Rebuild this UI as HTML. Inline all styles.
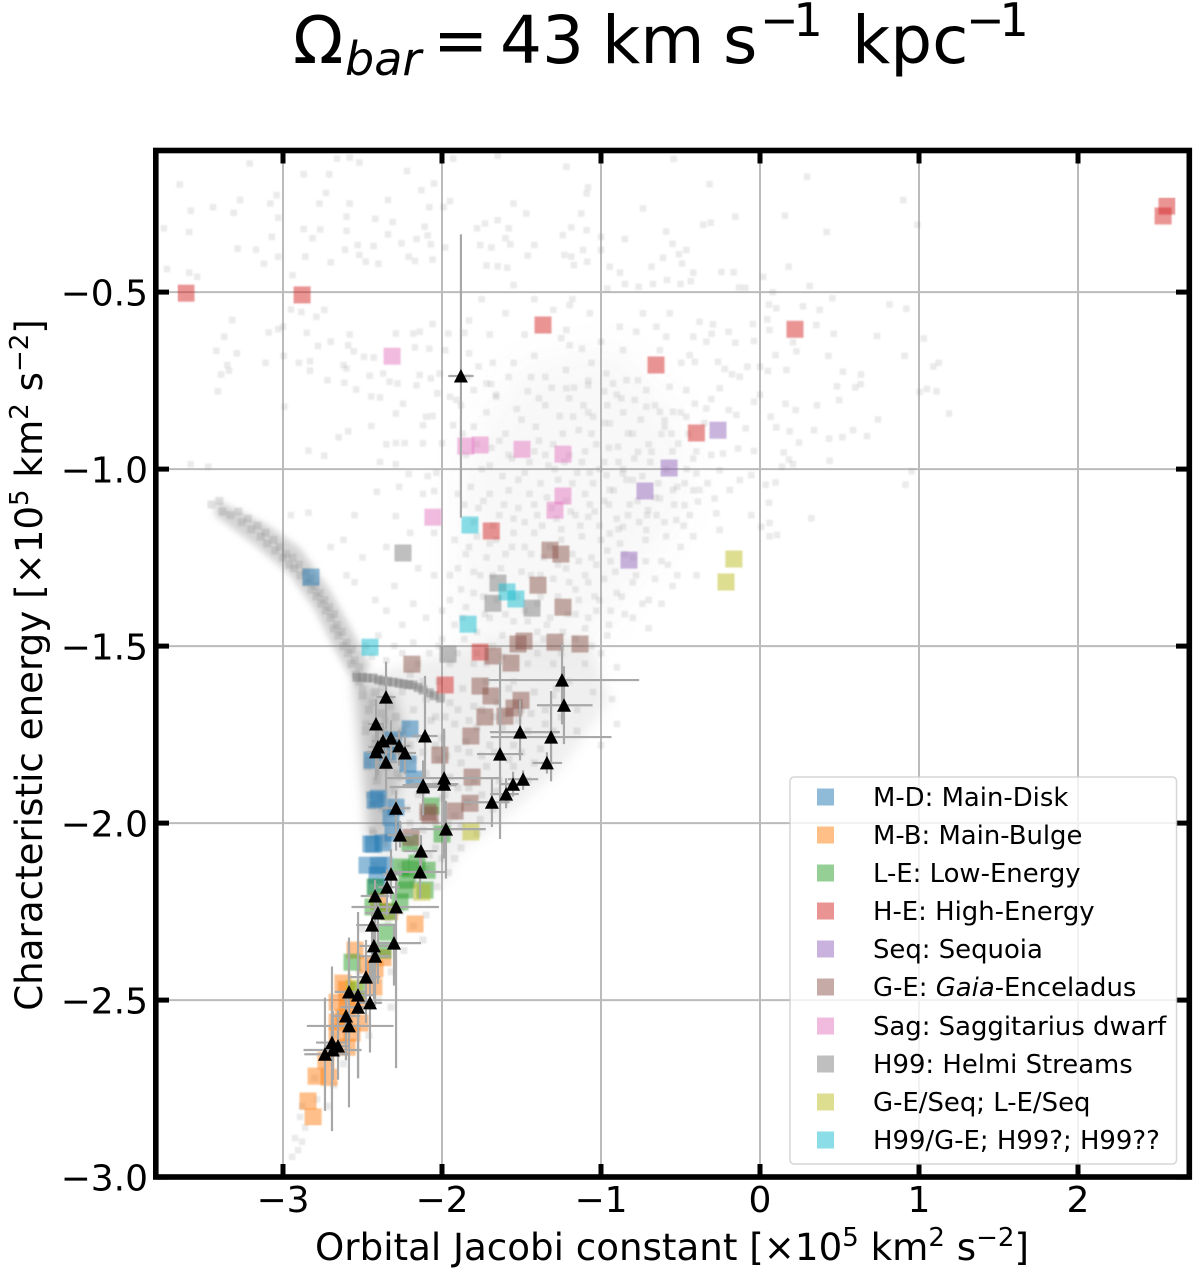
<!DOCTYPE html>
<html lang="en">
<head>
<meta charset="utf-8">
<title>Omega bar = 43 km/s/kpc energy vs Jacobi constant</title>
<style>
html,body{margin:0;padding:0;background:#fff;width:1200px;height:1276px;overflow:hidden}
svg{display:block}
text{font-family:"DejaVu Sans","Liberation Sans",sans-serif;fill:#000}
</style>
</head>
<body>
<svg id="chart" xmlns="http://www.w3.org/2000/svg" width="1200" height="1276" viewBox="0 0 1200 1276">
  <defs>
    <filter id="soft-wide" x="-30%" y="-30%" width="160%" height="160%"><feGaussianBlur stdDeviation="16"/></filter>
    <filter id="soft" x="-20%" y="-20%" width="140%" height="140%"><feGaussianBlur stdDeviation="6"/></filter>
    <filter id="soft-narrow" x="-20%" y="-20%" width="140%" height="140%"><feGaussianBlur stdDeviation="3.5"/></filter>
    <filter id="pixel-soft" x="0" y="0" width="100%" height="100%"><feGaussianBlur stdDeviation="0.7"/></filter>
    <clipPath id="plot-clip"><rect x="156" y="151" width="1033" height="1026"/></clipPath>
  </defs>
  <text y="63" font-size="66"><tspan x="293">Ω</tspan><tspan x="345" font-size="46" font-style="italic" dy="12">bar</tspan><tspan x="433" dy="-12">=</tspan><tspan x="500">43</tspan><tspan x="602">km</tspan><tspan x="723">s</tspan><tspan x="760" font-size="46" dy="-27" letter-spacing="-5">−1</tspan><tspan x="852" dy="27">kpc</tspan><tspan x="966" font-size="46" dy="-27" letter-spacing="-5">−1</tspan></text>
  <g id="grid"></g>
  <g clip-path="url(#plot-clip)">
    <g id="density-cloud" filter="url(#soft-wide)"></g>
    <g id="density" filter="url(#soft)"></g>
    <g id="density-stream" filter="url(#soft-narrow)"></g>
  </g>
  <g clip-path="url(#plot-clip)"><g id="stars" filter="url(#pixel-soft)"></g></g>
  <g clip-path="url(#plot-clip)"><g id="squares" filter="url(#pixel-soft)"></g></g>
  <g id="errors" clip-path="url(#plot-clip)"></g>
  <g id="triangles" clip-path="url(#plot-clip)"></g>
  <g id="ticks"></g>
  <rect x="155.8" y="150.5" width="1033.5" height="1026.5" fill="none" stroke="#000" stroke-width="5.6"/>
  <g>
    <rect x="790" y="777" width="386.5" height="387" rx="4" fill="#fff" fill-opacity="0.8" stroke="#cccccc" stroke-opacity="0.8" stroke-width="1.5"/>
    <g font-size="25.9">
      <g><rect x="817" y="788.5" width="17" height="17" fill="#1f77b4" fill-opacity="0.5"/><text x="873" y="806">M-D: Main-Disk</text></g>
      <g><rect x="817" y="826.5" width="17" height="17" fill="#ff7f0e" fill-opacity="0.5"/><text x="873" y="844">M-B: Main-Bulge</text></g>
      <g><rect x="817" y="864.5" width="17" height="17" fill="#2ca02c" fill-opacity="0.5"/><text x="873" y="882">L-E: Low-Energy</text></g>
      <g><rect x="817" y="902.5" width="17" height="17" fill="#d62728" fill-opacity="0.5"/><text x="873" y="920">H-E: High-Energy</text></g>
      <g><rect x="817" y="940.5" width="17" height="17" fill="#9467bd" fill-opacity="0.5"/><text x="873" y="958">Seq: Sequoia</text></g>
      <g><rect x="817" y="978.5" width="17" height="17" fill="#8c564b" fill-opacity="0.5"/><text x="873" y="996">G-E: <tspan font-style="italic">Gaia</tspan>-Enceladus</text></g>
      <g><rect x="817" y="1017.5" width="17" height="17" fill="#e377c2" fill-opacity="0.5"/><text x="873" y="1035">Sag: Saggitarius dwarf</text></g>
      <g><rect x="817" y="1055.5" width="17" height="17" fill="#7f7f7f" fill-opacity="0.5"/><text x="873" y="1073">H99: Helmi Streams</text></g>
      <g><rect x="817" y="1093.5" width="17" height="17" fill="#bcbd22" fill-opacity="0.5"/><text x="873" y="1111">G-E/Seq; L-E/Seq</text></g>
      <g><rect x="817" y="1131.5" width="17" height="17" fill="#17becf" fill-opacity="0.5"/><text x="873" y="1149">H99/G-E; H99?; H99??</text></g>
    </g>
  </g>
  <text x="672" y="1260" font-size="37.2" text-anchor="middle">Orbital Jacobi constant [×10<tspan font-size="26" dy="-14">5</tspan><tspan dy="14"> km</tspan><tspan font-size="26" dy="-14">2</tspan><tspan dy="14"> s</tspan><tspan font-size="26" dy="-14">−2</tspan><tspan dy="14">]</tspan></text>
  <text transform="translate(42,665) rotate(-90)" font-size="37.2" text-anchor="middle">Characteristic energy [×10<tspan font-size="26" dy="-14">5</tspan><tspan dy="14"> km</tspan><tspan font-size="26" dy="-14">2</tspan><tspan dy="14"> s</tspan><tspan font-size="26" dy="-14">−2</tspan><tspan dy="14">]</tspan></text>
</svg>
<script>
// Axis tick values
const xTicks = [-3,-2,-1,0,1,2];
const yTicks = [-0.5,-1,-1.5,-2,-2.5,-3];
const xTickLabels = ['−3','−2','−1','0','1','2'];
const yTickLabels = ['−0.5','−1.0','−1.5','−2.0','−2.5','−3.0'];

// Substructure markers: [Jacobi, energy] in units of 1e5 km^2 s^-2
const mainDisk = [[-2.824,-1.305],[-2.201,-1.734],[-2.308,-1.765],[-2.34,-1.80],[-2.44,-1.822],[-2.214,-1.833],[-2.176,-1.876],[-2.421,-1.935],[-2.40,-1.93],[-2.289,-1.955],[-2.321,-1.983],[-2.308,-2.028],[-2.447,-2.059],[-2.371,-2.056],[-2.472,-2.119],[-2.365,-2.119],[-2.409,-2.147],[-2.415,-2.181],[-2.43,-2.06],[-2.40,-2.12]];
const mainBulge = [[-2.17,-2.285],[-2.547,-2.359],[-2.421,-2.412],[-2.623,-2.452],[-2.428,-2.463],[-2.66,-2.506],[-2.516,-2.565],[-2.66,-2.562],[-2.597,-2.52],[-2.597,-2.633],[-2.66,-2.593],[-2.792,-2.715],[-2.711,-2.718],[-2.843,-2.785],[-2.811,-2.83],[-2.535,-2.50],[-2.566,-2.593],[-2.40,-2.22],[-2.33,-2.25],[-2.371,-2.38],[-2.47,-2.40],[-2.60,-2.47],[-2.73,-2.67],[-2.62,-2.55]];
const lowEnergy = [[-2.069,-1.952],[-2.0,-2.031],[-2.201,-2.056],[-2.258,-2.124],[-2.157,-2.113],[-2.094,-2.133],[-2.22,-2.161],[-2.233,-2.189],[-2.107,-2.189],[-2.421,-2.181],[-2.434,-2.237],[-2.346,-2.308],[-2.371,-2.359],[-2.566,-2.393],[-2.535,-2.472],[-2.264,-2.223],[-2.34,-2.25],[-2.20,-2.13]];
const highEnergy = [[-3.61,-0.503],[-2.88,-0.508],[2.535,-0.285],[2.56,-0.257],[-1.365,-0.593],[-0.654,-0.706],[0.22,-0.605],[-0.40,-0.898],[-1.69,-1.175],[-1.76,-1.517],[-1.98,-1.61]];
const sequoia = [[-0.264,-0.89],[-0.572,-0.997],[-0.723,-1.062],[-0.824,-1.257]];
const gaiaEnceladus = [[-1.321,-1.229],[-1.252,-1.24],[-1.396,-1.328],[-1.239,-1.39],[-1.522,-1.494],[-1.484,-1.486],[-1.289,-1.489],[-1.132,-1.494],[-1.679,-1.528],[-1.566,-1.548],[-1.761,-1.613],[-1.692,-1.641],[-1.503,-1.653],[-1.547,-1.675],[-1.604,-1.698],[-1.73,-1.70],[-1.818,-1.754],[-2.189,-1.551],[-2.013,-1.808],[-1.811,-1.87],[-1.824,-1.944],[-1.918,-1.966],[-2.088,-1.969],[-2.075,-1.977],[-2.195,-2.04]];
const sagittarius = [[-2.314,-0.681],[-1.85,-0.935],[-1.76,-0.932],[-1.497,-0.944],[-1.239,-0.958],[-1.239,-1.076],[-1.289,-1.116],[-2.057,-1.136]];
const helmiStreams = [[-2.245,-1.237],[-1.648,-1.322],[-1.68,-1.379],[-1.434,-1.393],[-1.962,-1.523]];
const geSeq = [[-0.164,-1.254],[-0.214,-1.319],[-1.818,-2.025],[-2.126,-2.195],[-2.553,-2.466]];
const h99Ge = [[-1.824,-1.158],[-1.591,-1.347],[-1.535,-1.367],[-1.836,-1.438],[-2.453,-1.503]];

// Clusters (black triangles with asymmetric error bars)
const clusterJacobi = [-1.881,-2.352,-2.415,-2.371,-2.321,-2.27,-2.403,-2.415,-2.233,-2.352,-2.107,-2.119,-2.119,-1.987,-1.987,-1.635,-1.509,-1.314,-1.245,-1.233,-1.34,-1.49,-1.553,-1.597,-1.686,-2.289,-1.975,-2.264,-2.132,-2.138,-2.321,-2.346,-2.421,-2.289,-2.403,-2.44,-2.428,-2.302,-2.421,-2.478,-2.585,-2.528,-2.453,-2.528,-2.604,-2.585,-2.692,-2.654,-2.686,-2.736];
const clusterEnergy = [-0.737,-1.644,-1.72,-1.768,-1.76,-1.782,-1.785,-1.799,-1.802,-1.828,-1.754,-1.893,-1.898,-1.873,-1.89,-1.805,-1.743,-1.757,-1.596,-1.667,-1.83,-1.876,-1.89,-1.918,-1.941,-1.958,-2.017,-2.034,-2.079,-2.138,-2.144,-2.181,-2.206,-2.237,-2.254,-2.288,-2.347,-2.339,-2.376,-2.435,-2.477,-2.486,-2.508,-2.52,-2.545,-2.573,-2.62,-2.63,-2.641,-2.653];
const clusterJacobiErrLow = [.08,.06,.05,.07,.07,.065,.06,.06,.07,.06,.08,.13,.21,.36,.21,.145,.19,.38,.465,.17,.09,.095,.08,.1,.18,.09,.22,.08,.11,.17,.05,.055,.09,.28,.08,.10,.09,.10,.095,.10,.09,.08,.075,.11,.075,.265,.10,.08,.185,.13];
const clusterJacobiErrHigh = [.08,.06,.05,.07,.07,.07,.08,.08,.07,.07,.08,.21,.17,.35,.09,.145,.25,.38,.485,.18,.095,.095,.055,.08,.11,.09,.25,.08,.10,.165,.07,.08,.09,.27,.11,.145,.11,.17,.095,.09,.10,.11,.075,.09,.09,.28,.095,.075,.18,.155];
const clusterEnergyErrUp = [.40,.10,.07,.045,.05,.045,.06,.06,.05,.06,.17,.07,.05,.14,.15,.26,.09,.13,.105,.11,.03,.025,.035,.045,.07,.05,.08,.04,.045,.055,.07,.05,.045,.075,.035,.04,.06,.05,.115,.105,.145,.235,.12,.13,.07,.25,.215,.10,.11,.16];
const clusterEnergyErrDown = [.40,.09,.06,.055,.06,.055,.08,.08,.06,.08,.12,.08,.08,.12,.21,.24,.08,.125,.125,.11,.03,.03,.035,.04,.07,.12,.14,.035,.045,.075,.07,.08,.08,.455,.2,.16,.15,.12,.14,.13,.135,.235,.14,.2,.125,.23,.25,.095,.085,.16];

// Background stars, read as alternating Jacobi, energy
const haloStars = [-3.65,-.196,-3.21,-.137,-3.58,-.27,-3.44,-.26,-3.27,-.24,-3.31,-.276,-3.08,-.25,-3.04,-.226,-3.03,-.29,-3.75,-.32,-3.59,-.33,-3.07,-.344,-3.285,-.377,-3.17,-.38,-3.03,-.4,-3.12,-.42,-3.73,-.435,-3.59,-.445,-3.54,-.457,-2.94,-.452,-2.87,-.167,-2.71,-.167,-2.73,-.22,-2.77,-.25,-2.58,-.25,-2.6,-.287,-2.87,-.322,-2.765,-.323,-2.6,-.327,-2.815,-.348,-2.42,-.293,-2.31,-.302,-2.34,-.24,-2.22,-.158,-2.13,-.212,-2.05,-.193,-2.08,-.26,-1.99,-.26,-1.95,-.243,-2.58,-.12,-2.66,-.123,-2.52,-.134,-2.11,-.315,-2.09,-.34,-2.07,-.365,-2.16,-.35,-2.34,-.337,-2.255,-.362,-2.53,-.367,-2.43,-.37,-2.61,-.38,-2.52,-.395,-2.86,-.4,-2.7,-.416,-2.48,-.414,-2.4,-.42,-2.21,-.4,-2.17,-.412,-2.06,-.408,-1.98,-.374,-1.78,-.32,-1.65,-.297,-1.73,-.306,-1.55,-.25,-1.47,-.278,-1.58,-.32,-1.76,-.367,-1.69,-.374,-1.6,-.348,-1.57,-.365,-1.42,-.367,-1.46,-.397,-1.72,-.425,-1.65,-.427,-1.59,-.431,-1.65,-.115,-1.93,-.123,
-3.32,-.579,-3.37,-.626,-3.42,-.666,-3.29,-.673,-3.35,-.706,-3.34,-.722,-3.39,-.733,-3.41,-.78,-3.11,-.70,-3.09,-.614,-3.03,-.605,-3,-.598,-2.99,-.824,-2.996,-.68,-2.9,-.70,-2.83,-.695,-2.83,-.722,-2.85,-.615,-2.885,-.556,-2.95,-.549,-2.79,-.57,-2.74,-.55,-2.78,-.652,-2.70,-.64,-2.72,-.749,-2.62,-.706,-2.6,-.716,-2.58,-.62,-2.59,-.65,-2.555,-.667,-2.49,-.683,-2.43,-.685,-2.615,-.756,-2.54,-.775,-2.455,-.736,-2.37,-.73,-2.33,-.753,-2.28,-.758,-2.445,-.795,-2.39,-.798,-2.29,-.617,-2.18,-.617,-2.14,-.612,-2.17,-.656,-2.08,-.66,-1.98,-.664,-2.06,-.59,-1.96,-.617,-1.86,-.615,-1.83,-.58,-1.83,-.673,-2.14,-.734,-2.07,-.744,-2.015,-.73,-2.16,-.763,-2.03,-.786,-1.95,-.796,-1.91,-.805,-1.8,-.777,-1.72,-.758,-1.66,-.796,-2.245,-.815,-2.29,-.843,-2.1,-.852,-2.06,-.85,-2.12,-.876,-1.93,-.876,-2.445,-.878,-2.59,-.893,-2.65,-.91,-2.35,-.93,-2.29,-.926,-2.235,-.926,-2.12,-.927,-2,-.927,-2.84,-.948,-2.74,-.962,-2.39,-.98,-2.29,-.986,-3.58,-.986,-3.47,-.993,-2.21,-1.014,-2.09,-1.02,-2.035,-1.01,-2.27,-1.05,-2.12,-1.07,-2.41,-1.064,-2.05,-1.062,-2.55,-1.13,-2.29,-1.133,-2.84,-1.123,-2.95,-1.13,
.296,-.174,-.317,-.195,.9,-.24,.157,-.284,.42,-.33,.99,-.31,-.155,-.287,-.31,-.304,-.356,-.31,-.59,-.329,-.736,-.264,-.85,-.35,-.55,-.363,-.463,-.381,-.51,-.393,-.61,-.403,-.683,-.428,-.49,-.419,-.88,-.445,-.945,-.428,-.243,-.443,-.166,-.444,-.42,-.445,-.435,-.469,-.5,-.477,-.585,-.466,-.673,-.477,-.763,-.485,-.85,-.477,-.96,-.49,.18,-.428,.02,-.457,.312,-.483,-.092,-.488,-.132,-.487,.08,-.5,.455,-.517,.815,-.535,.92,-.547,.27,-.54,.375,-.55,.103,-.546,.057,-.535,.046,-.577,.354,-.593,.463,-.618,.736,-.624,1.03,-.631,.91,-.68,.43,-.68,.229,-.667,.098,-.678,.207,-.642,-.044,-.59,-.197,-.612,-.304,-.618,-.38,-.584,-.296,-.591,-.42,-.626,-.338,-.64,-.155,-.643,-.038,-.638,.06,-.607,1.09,-.71,1.124,-.7,.522,-.725,.635,-.733,.166,-.72,.05,-.723,0,-.711,-.08,-.711,.484,-.766,.6,-.769,.633,-.76,1.004,-.782,1.05,-.774,1.11,-.78,.497,-.805,.358,-.82,.16,-.815,.224,-.833,1.19,-.843,.742,-.86,.103,-.882,.187,-.893,.34,-.89,.585,-.89,.673,-.907,.434,-.914,.518,-.91,.245,-.925,.067,-.852,.149,-.953,.182,-.973,.207,-.986,.438,-.976,.138,-.993,.954,-1.006,.915,-1.044,.098,-1.038,.036,-1.044,.057,-1.095,.323,-1.139,.06,-1.152,.107,-1.186,.06,-1.19,.008,-1.163,-.055,-1.13,-.038,-.949,-.138,-.942,-.09,-.885,-.149,-.847,-.197,-.833,-.254,-.772,-.038,-.81,0,-.79,-.128,-.739,-.176,-.732,-.222,-.717,-.264,-.697,-.306,-.802,-.41,-.815,-.338,-.829,-.463,-.777,-.442,-.678,-.495,-.7,-.41,-.697,-.63,-.664,-.59,-.626,-.652,-.598,-.736,-.56,-.883,-.598,-.568,-.56,-.778,-.612,-.862,-.664,-.966,-.73,-.925,-.758,-.84,-.749,-.767,-.749,-.715,-.777,-.568,-.767,-.872,-.8,-.788,-.805,-.715,-.824,-.63,-.838,-.547,-.838,-.6,-.862,-.463,-.852,-.83,-.899,-.893,-.937,-.945,-.871,-.62,-.901,-.557,-.9,-.515,-.928,-.767,-.951,-.683,-.951,-.42,-.97,-.306,-.96,-.233,-.956,-.254,-1.003,-.4,-1.012,-.8,-1.031,-.862,-1.012,-.966,-1.017,-.474,-1.04,-.38,-1.059,-.547,-1.059,-.63,-1.083,-.945,-1.059,-.474,-1.102,-.704,-1.116,-.39,-1.092,-.285,-1.083,-.19,-1.059,-.128,-1.031,-.055,-1.017,-.275,-1.125,-.442,-1.13,-.526,-1.144,-.862,-1.163,-.715,-1.172,-1.08,-1.135,-.945,-1.182,-.59,-1.19,-.42,-1.19,-.254,-1.172,-1.176,-.852,-1.05,-.852,-1.218,-.772,-1.08,-.763,-1.06,-.70,-1.218,-.607,-1.197,-.65,-1.197,-.537,-1.07,-.56,-1.23,-.395,-1.187,-.4,-1.17,-.424,-1.087,-.414,-1.113,-.381,-1,-.381,-1.124,-.278,-1.09,-.221,-1.218,-.146,-.543,-.124,-1.082,-.204,-1.187,-.317,-1.24,-.339,-1.09,-.325,-1,-.344,
-1.55,-.48,-1.42,-.52,-1.6,-.56,-1.48,-.62,-1.3,-.55,-1.18,-.52,-1.7,-.62,-1.75,-.52,-1.25,-.63,-1.12,-.66,-1,-.64,-1.68,-.7,-1.55,-.7,-1.42,-.68,-1.35,-.74,-1.22,-.72,-1.08,-.75,-.98,-.78,-1.88,-.82,-1.8,-.88,-1.72,-.84,-1.66,-.79,-1.6,-.9,-1.53,-.83,-1.46,-.78,-1.41,-.88,-1.35,-.82,-1.3,-.93,-1.26,-.85,-1.2,-.8,-1.14,-.89,-1.08,-.84,-1.03,-.93,-.98,-.87,-1.85,-.96,-1.75,-1.0,-1.69,-.94,-1.62,-1.02,-1.56,-.97,-1.48,-1.01,-1.42,-.95,-1.38,-1.04,-1.33,-.99,-1.27,-1.03,-1.2,-.96,-1.15,-1.01,-1.1,-.95,-1.05,-1.04,-.98,-.98,-.92,-1.06,-.86,-1.0,-1.9,-1.07,-1.82,-1.05,-1.77,-1.11,-1.7,-1.07,-1.64,-1.13,-1.58,-1.06,-1.52,-1.11,-1.45,-1.07,-1.4,-1.13,-1.34,-1.08,-1.28,-1.14,-1.22,-1.09,-1.16,-1.13,-1.1,-1.07,-1.04,-1.12,-.98,-1.09,-.9,-1.14,-.82,-1.1,-.76,-1.15,-.65,-1.13,-1.92,-1.2,-1.85,-1.24,-1.78,-1.19,-1.72,-1.25,-1.66,-1.2,-1.6,-1.24,-1.55,-1.18,-1.48,-1.22,-1.42,-1.18,-1.36,-1.25,-1.25,-1.2,-1.18,-1.24,-1.12,-1.19,-1.06,-1.25,-1,-1.2,-.94,-1.26,-.88,-1.21,-.8,-1.25,-.72,-1.2,-.62,-1.26,-.5,-1.22,-1.95,-1.3,-1.88,-1.34,-1.8,-1.29,-1.74,-1.36,-1.68,-1.3,-1.44,-1.3,-1.38,-1.36,-1.3,-1.31,-1.22,-1.28,-1.16,-1.34,-1.1,-1.3,-1.04,-1.36,-.98,-1.31,-.9,-1.35,-.8,-1.32,-.7,-1.37,-.55,-1.33,-.4,-1.3,-2.0,-1.4,-1.92,-1.44,-1.85,-1.39,-1.78,-1.46,-1.7,-1.42,-1.62,-1.47,-1.55,-1.43,-1.48,-1.4,-1.4,-1.46,-1.32,-1.42,-1.24,-1.46,-1.16,-1.41,-1.1,-1.45,-1.03,-1.4,-.95,-1.44,-.85,-1.41,-.7,-1.45,-.62,-1.38,-2.1,-1.42,-2.18,-1.38,-2.25,-1.44,-2.35,-1.4,-2.05,-1.3,-2.15,-1.28,-2.3,-1.33,-2.42,-1.37,-2.55,-1.32,-2.2,-1.18,-2.35,-1.22,-2.5,-1.25,-2.05,-1.18,-2.62,-1.2,-2.7,-1.22,-2.6,-1.3,-2.3,-1.5,-2.4,-1.47,-2.48,-1.5,-2.18,-1.49,-2.08,-1.52,-2.0,-1.48,-1.9,-1.52,-1.8,-1.55,-1.68,-1.5,-1.55,-1.6,-1.4,-1.52,-1.3,-1.55,-1.2,-1.6,-1.1,-1.55,-1.0,-1.52,-.9,-1.56,-.93,-1.65,-1.05,-1.63,-1.15,-1.68,-1.3,-1.64,-.9,-1.72,-1.0,-1.78,
-2.893,-2.83,-2.925,-2.89,-2.943,-2.943,-2.786,-2.78,-2.86,-2.86,-2.905,-2.924,-2.88,-2.9];
const cloudStars = [-1.84,-.74,-1.77,-.71,-1.69,-.76,-1.58,-.74,-1.5,-.86,-1.44,-.74,-1.39,-.8,-1.31,-.77,-1.24,-.9,-1.17,-.77,-1.11,-.82,-1.06,-.9,-.96,-.82,-.9,-.79,-.86,-.84,-.8,-.9,-.75,-.86,-.7,-.93,-.66,-.82,-.6,-.88,-.55,-.95,-.5,-.84,-.45,-.9,-.4,-.95,-.35,-.87,
-1.87,-.9,-1.78,-.93,-1.7,-.99,-1.64,-.92,-1.58,-.96,-1.52,-1.03,-1.45,-.98,-1.39,-.92,-1.35,-.96,-1.29,-1.0,-1.23,-.98,-1.18,-1.04,-1.12,-.98,-1.07,-1.01,-1.01,-1.0,-.95,-.94,-.89,-.98,-.84,-1.03,-.79,-.97,-.74,-1.02,-.69,-.98,-.64,-1.04,-.59,-1.0,-.52,-1.05,-.46,-1.0,-.42,-1.06,-.33,-1.04,
-1.86,-1.1,-1.8,-1.15,-1.74,-1.09,-1.68,-1.16,-1.61,-1.1,-1.55,-1.14,-1.48,-1.15,-1.42,-1.1,-1.37,-1.16,-1.31,-1.11,-1.25,-1.17,-1.19,-1.12,-1.13,-1.16,-1.07,-1.1,-1.01,-1.16,-.95,-1.1,-.89,-1.17,-.83,-1.13,-.77,-1.09,-.71,-1.13,-.66,-1.08,-.6,-1.15,-.54,-1.1,-.48,-1.16,
-1.9,-1.28,-1.83,-1.22,-1.76,-1.3,-1.7,-1.21,-1.63,-1.28,-1.56,-1.22,-1.5,-1.29,-1.44,-1.24,-1.38,-1.3,-1.32,-1.22,-1.27,-1.27,-1.2,-1.32,-1.14,-1.26,-1.08,-1.32,-1.03,-1.27,-.96,-1.23,-.91,-1.29,-.85,-1.24,-.78,-1.3,-.72,-1.26,-.66,-1.31,-.58,-1.27,-.52,-1.3,
-1.95,-1.37,-1.87,-1.42,-1.8,-1.35,-1.73,-1.41,-1.66,-1.37,-1.6,-1.41,-1.53,-1.36,-1.46,-1.43,-1.4,-1.38,-1.34,-1.44,-1.27,-1.36,-1.21,-1.41,-1.14,-1.37,-1.08,-1.42,-1.01,-1.37,-.94,-1.4,-.87,-1.36,-.8,-1.42,-.74,-1.38,
-2.02,-1.5,-1.95,-1.55,-1.86,-1.48,-1.78,-1.52,-1.72,-1.55,-1.62,-1.53,-1.52,-1.5,-1.46,-1.55,-1.36,-1.48,-1.25,-1.52,-1.16,-1.48,-1.06,-1.5,-.96,-1.47,-2.15,-1.55,-2.25,-1.52,-2.35,-1.54,-2.44,-1.53];
const wedgeStars = [-2.5,-1.62,-2.44,-1.66,-2.38,-1.62,-2.32,-1.67,-2.25,-1.63,-2.18,-1.68,-2.1,-1.65,-2.02,-1.6,-1.95,-1.66,-1.87,-1.62,-1.8,-1.67,-1.72,-1.6,-1.65,-1.66,-1.58,-1.62,-1.5,-1.68,-1.42,-1.63,-1.35,-1.68,-1.28,-1.62,-2.48,-1.72,-2.42,-1.76,-2.36,-1.71,-2.3,-1.76,-2.22,-1.72,-2.14,-1.76,-2.07,-1.71,-2,-1.76,-1.92,-1.72,-1.85,-1.77,-1.78,-1.73,-1.7,-1.78,-1.62,-1.73,-1.55,-1.78,-1.46,-1.74,-1.38,-1.79,-1.3,-1.74,-2.47,-1.82,-2.4,-1.86,-2.32,-1.81,-2.26,-1.87,-2.18,-1.82,-2.1,-1.86,-2.02,-1.82,-1.95,-1.87,-1.88,-1.83,-1.8,-1.88,-1.72,-1.84,-1.64,-1.88,-1.55,-1.84,-1.46,-1.88,-2.46,-1.92,-2.38,-1.96,-2.3,-1.91,-2.22,-1.96,-2.15,-1.92,-2.07,-1.97,-2,-1.93,-1.92,-1.98,-1.84,-1.94,-1.76,-1.99,-1.68,-1.96,-2.44,-2.02,-2.36,-2.06,-2.28,-2.01,-2.2,-2.06,-2.12,-2.02,-2.04,-2.07,-1.96,-2.03,-1.88,-2.07,-2.42,-2.12,-2.34,-2.17,-2.26,-2.12,-2.18,-2.17,-2.1,-2.13,-2.03,-2.18,-1.96,-2.14,-2.42,-2.24,-2.34,-2.28,-2.26,-2.25,-2.18,-2.29,-2.1,-2.26,-2.12,-2.33,-2.24,-2.36,-2.32,-2.42,-2.44,-2.36,-2.5,-2.3,-2.52,-2.42,-2.4,-2.5,-2.32,-2.52,-2.62,-2.5,-2.58,-2.56,-2.46,-2.6,-2.68,-2.6,-2.62,-2.68,-2.75,-2.66,-2.68,-2.74,-2.8,-2.72,-2.88,-2.8,-2.72,-2.8,
-2.4,-1.6,-2.28,-1.6,-2.2,-1.58,-2.12,-1.6,-2.04,-1.7,-1.98,-1.7,-1.9,-1.68,-1.83,-1.71,-1.75,-1.68,-1.67,-1.7,-1.6,-1.69,-1.52,-1.71,-1.44,-1.69,-1.35,-1.72,-1.25,-1.7,-1.15,-1.74,-2.2,-1.78,-2.12,-1.8,-2.04,-1.78,-1.97,-1.81,-1.9,-1.79,-1.83,-1.8,-1.75,-1.81,-1.67,-1.8,-1.58,-1.82,-1.5,-1.8,-1.42,-1.83,-2.2,-1.88,-2.12,-1.91,-2.04,-1.89,-1.98,-1.92,-1.9,-1.9,-1.83,-1.9,-1.75,-1.92,-1.66,-1.91,-1.58,-1.93,-2.2,-2.0,-2.12,-1.97,-2.04,-2.0,-1.96,-2.0,-1.88,-2.01,-1.78,-2.03,-2.16,-2.08,-2.08,-2.09,-2.0,-2.1,-1.92,-2.1];
const streamStars = [-3.45,-1.1,-3.4,-1.09,-3.38,-1.12,-3.33,-1.13,-3.28,-1.12,-3.26,-1.15,-3.22,-1.14,-3.2,-1.17,-3.16,-1.16,-3.14,-1.19,-3.11,-1.18,-3.1,-1.21,-3.06,-1.2,-3.05,-1.23,-3.02,-1.22,-3.0,-1.25,-2.98,-1.24,-2.96,-1.27,-2.94,-1.25,-2.93,-1.28,-2.9,-1.27,-2.89,-1.3,-2.86,-1.29,-2.85,-1.32,-2.83,-1.31,-2.82,-1.34,-2.8,-1.33,-2.79,-1.36,-2.77,-1.35,-2.76,-1.38,-2.74,-1.37,-2.73,-1.4,-2.71,-1.39,-2.7,-1.42,-2.68,-1.41,-2.68,-1.45,-2.66,-1.44,-2.65,-1.47,-2.63,-1.46,-2.62,-1.5,-2.6,-1.49,-2.59,-1.52,-2.57,-1.51,-2.57,-1.55,-2.55,-1.54,-2.54,-1.58,-2.52,-1.56,-2.52,-1.6,
-2.5,-1.64,-2.46,-1.68,-2.42,-1.63,-2.38,-1.69,-2.33,-1.65,-2.29,-1.7,-2.48,-1.74,-2.42,-1.78,-2.37,-1.74,-2.31,-1.78,-2.25,-1.74,-2.47,-1.84,-2.41,-1.88,-2.35,-1.84,-2.28,-1.86,-2.44,-1.95,-2.38,-1.93,-2.32,-1.97,-2.43,-2.03,-2.36,-2.04];
const bandStars = [-2.535,-1.588,-2.5,-1.588,-2.47,-1.59,-2.434,-1.59,-2.4,-1.595,-2.37,-1.598,-2.34,-1.6,-2.308,-1.602,-2.27,-1.605,-2.24,-1.607,-2.21,-1.609,-2.182,-1.61,-2.15,-1.617,-2.12,-1.624,-2.08,-1.632,-2.05,-1.64,-2.01,-1.647];

// Approximate density contours of the star cloud (Jacobi, energy pairs)
const densityCloud = [-1.9,-1.0,-1.5,-.7,-.9,-.65,-.5,-.85,-.45,-1.1,-.9,-1.4,-1.2,-1.55,-1.9,-1.5];
const densityWedge = [-2.566,-1.596,-2.138,-1.54,-1.635,-1.483,-1.069,-1.483,-.943,-1.653,-1.258,-1.85,-1.698,-2.02,-1.887,-2.076,-1.981,-2.161,-2.138,-2.218,-2.327,-2.218,-2.421,-2.105,-2.484,-1.907];
const densityCore = [-2.547,-1.596,-2.296,-1.638,-2.201,-1.794,-2.296,-1.935,-2.358,-2.048,-2.465,-2.048,-2.503,-1.85];
const densityStream = [-3.415,-1.088,-3.1,-1.158,-2.893,-1.223,-2.704,-1.342,-2.566,-1.455,-2.453,-1.554,-2.528,-1.624,-2.673,-1.511,-2.799,-1.398,-2.956,-1.299,-3.176,-1.215,-3.43,-1.13];

const NS = 'http://www.w3.org/2000/svg';
function sx(j){ return 155.8 + (j + 3.8) * 159; }
function sy(e){ return 150.5 + (-0.1 - e) * 354; }

const gridG = document.getElementById('grid');
const ticksG = document.getElementById('ticks');
const densityCloudG = document.getElementById('density-cloud');
const densityG = document.getElementById('density');
const densityStreamG = document.getElementById('density-stream');
const starsG = document.getElementById('stars');
const squaresG = document.getElementById('squares');
const errorsG = document.getElementById('errors');
const trianglesG = document.getElementById('triangles');

function line(parent, x1, y1, x2, y2, stroke, width){
  const l = document.createElementNS(NS, 'line');
  l.setAttribute('x1', x1);
  l.setAttribute('y1', y1);
  l.setAttribute('x2', x2);
  l.setAttribute('y2', y2);
  l.setAttribute('stroke', stroke);
  l.setAttribute('stroke-width', width);
  parent.appendChild(l);
  return l;
}

xTicks.forEach(function(v, i){
  const px = sx(v);
  const g = line(gridG, px, 150.5, px, 1177, '#bbbbbb', 2);
  
  
  [[1177, 1164], [150.5, 163.5]].forEach(function(seg){
    const t = line(ticksG, px, seg[0], px, seg[1], '#000', 5);
    
    
  });
  const lab = document.createElementNS(NS, 'text');
  
  
  lab.setAttribute('x', px);
  lab.setAttribute('y', 1212);
  lab.setAttribute('font-size', 36);
  lab.setAttribute('text-anchor', 'middle');
  lab.textContent = xTickLabels[i];
  ticksG.appendChild(lab);
});

yTicks.forEach(function(v, i){
  const py = sy(v);
  const g = line(gridG, 155.8, py, 1189.3, py, '#bbbbbb', 2);
  
  
  [[155.8, 169], [1189.3, 1176]].forEach(function(seg){
    const t = line(ticksG, seg[0], py, seg[1], py, '#000', 5);
    
    
  });
  const lab = document.createElementNS(NS, 'text');
  
  
  lab.setAttribute('x', 148);
  lab.setAttribute('y', py + 13.5);
  lab.setAttribute('font-size', 36);
  lab.setAttribute('text-anchor', 'end');
  lab.textContent = yTickLabels[i];
  ticksG.appendChild(lab);
});

function drawDensity(parent, values, opacity){
  const pts = [];
  for (let i = 0; i < values.length; i += 2) pts.push(sx(values[i]).toFixed(1) + ',' + sy(values[i + 1]).toFixed(1));
  const p = document.createElementNS(NS, 'polygon');
  
  
  p.setAttribute('points', pts.join(' '));
  p.setAttribute('fill', '#808080');
  p.setAttribute('fill-opacity', opacity);
  parent.appendChild(p);
}
drawDensity(densityCloudG, densityCloud, 0.06);
drawDensity(densityG, densityWedge, 0.13);
drawDensity(densityG, densityCore, 0.36);
drawDensity(densityStreamG, densityStream, 0.34);

function drawStars(values, size, opacity){
  for (let i = 0; i < values.length; i += 2) {
    const r = document.createElementNS(NS, 'rect');
    
    
    r.setAttribute('x', (sx(values[i]) - size / 2).toFixed(1));
    r.setAttribute('y', (sy(values[i + 1]) - size / 2).toFixed(1));
    r.setAttribute('width', size);
    r.setAttribute('height', size);
    r.setAttribute('fill', '#808080');
    r.setAttribute('fill-opacity', opacity);
    starsG.appendChild(r);
  }
}
drawStars(haloStars, 6.5, 0.16);
drawStars(cloudStars, 6.5, 0.16);
drawStars(wedgeStars, 7, 0.18);
drawStars(streamStars, 8, 0.22);
drawStars(bandStars, 9, 0.55);

const seriesList = [
  {name: 'main-disk', color: '#1f77b4', values: mainDisk},
  {name: 'main-bulge', color: '#ff7f0e', values: mainBulge},
  {name: 'low-energy', color: '#2ca02c', values: lowEnergy},
  {name: 'high-energy', color: '#d62728', values: highEnergy},
  {name: 'sequoia', color: '#9467bd', values: sequoia},
  {name: 'gaia-enceladus', color: '#8c564b', values: gaiaEnceladus},
  {name: 'sagittarius', color: '#e377c2', values: sagittarius},
  {name: 'helmi-streams', color: '#7f7f7f', values: helmiStreams},
  {name: 'ge-seq', color: '#bcbd22', values: geSeq},
  {name: 'h99-ge', color: '#17becf', values: h99Ge}
];
seriesList.forEach(function(series){
  series.values.forEach(function(v){
    const r = document.createElementNS(NS, 'rect');
    
    
    r.setAttribute('x', (sx(v[0]) - 8.5).toFixed(1));
    r.setAttribute('y', (sy(v[1]) - 8.5).toFixed(1));
    r.setAttribute('width', 17);
    r.setAttribute('height', 17);
    r.setAttribute('fill', series.color);
    r.setAttribute('fill-opacity', 0.5);
    squaresG.appendChild(r);
  });
});

clusterJacobi.forEach(function(j, i){
  const e = clusterEnergy[i];
  const h = line(errorsG, sx(j - clusterJacobiErrLow[i]), sy(e), sx(j + clusterJacobiErrHigh[i]), sy(e), '#a8a8a8', 2.2);
  
  
  const v = line(errorsG, sx(j), sy(e + clusterEnergyErrUp[i]), sx(j), sy(e - clusterEnergyErrDown[i]), '#a8a8a8', 2.2);
  
  
  const px = sx(j), py = sy(e);
  const t = document.createElementNS(NS, 'polygon');
  
  
  t.setAttribute('points', px.toFixed(1) + ',' + (py - 7).toFixed(1) + ' ' + (px + 7).toFixed(1) + ',' + (py + 6.5).toFixed(1) + ' ' + (px - 7).toFixed(1) + ',' + (py + 6.5).toFixed(1));
  t.setAttribute('fill', '#000');
  trianglesG.appendChild(t);
});
</script>
</body>
</html>
